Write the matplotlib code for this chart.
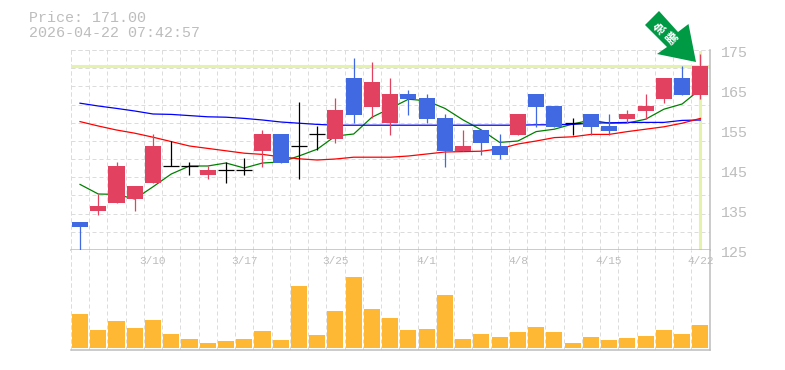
import numpy as np
import matplotlib
matplotlib.use("Agg")
import matplotlib.pyplot as plt
from matplotlib.patches import Polygon, Rectangle

# OHLC
opens = [132, 134.75, 136.75, 137.75, 141.75, 146, 146, 143.75, 144.9, 144.9, 149.75, 154,
         150.9, 153.9, 152.75, 168, 160.75, 156.75, 164, 163, 158, 149.75, 155, 151,
         153.75, 164, 161, 156.75, 159, 156, 157.75, 159.75, 162.75, 168, 163.75]
closes = [130.75, 136, 146, 141, 151, 146, 146, 145, 144.9, 144.9, 154, 146.75,
          150.9, 153.9, 160, 158.75, 167, 164, 162.75, 157.75, 149.75, 151, 151.75, 148.75,
          159, 160.75, 155.75, 156.75, 155.75, 154.75, 159, 161, 168, 163.75, 171]
highs = [132, 139, 147, 141, 154, 152.25, 147, 146, 147, 148, 155, 154,
         162, 156, 163, 173, 172, 168, 165, 164, 159, 155, 155, 154,
         159, 164, 161, 158, 159, 159, 160, 164, 168, 171, 174]
lows = [125, 133.75, 136.75, 134.75, 141.75, 146, 143.75, 142.75, 141.75, 143.75, 145.75, 146.75,
        142.75, 150, 151.75, 156.75, 158, 153.75, 158.75, 156.75, 145.75, 149.75, 148.75, 147.75,
        153.75, 155.75, 155.75, 153.75, 153.75, 153.75, 156.7, 157.75, 161.75, 163.75, 162.75]

ma_green = [141.4, 139, 138.9, 137.75, 140.8, 144, 146, 146, 146.75, 145.5, 146.75, 147,
            148.5, 150.2, 153.5, 154, 158.2, 160.4, 162.7, 162.3, 160.4, 157.5, 155, 151.9,
            152.25, 154.6, 155.2, 156.5, 157.5, 156.7, 156.75, 157.7, 160.2, 161.5, 165.2]
ma_blue = [161.7, 161, 160.4, 159.75, 159, 158.9, 158.6, 158.3, 158.2, 157.9, 157.5, 157,
           156.7, 156.4, 156.2, 156.2, 156.2, 156.2, 156.2, 156.2, 156.2, 156.2, 156.2, 156.2,
           156.2, 156.3, 156.3, 156.4, 156.7, 156.8, 156.9, 156.9, 156.9, 157.4, 157.5]
ma_red = [157.1, 156, 155, 154.2, 153.2, 152.1, 151, 150.4, 149.8, 149.2, 148.9, 148.3,
          147.8, 147.5, 147.75, 148.2, 148.2, 148.2, 148.5, 149, 149.5, 149.6, 149.7, 150.3,
          151.5, 152.25, 153.1, 153.3, 153.9, 153.9, 154.6, 155.2, 155.8, 156.7, 157.9]

volumes = [34, 18, 27, 20, 28, 14, 9, 5, 7, 9, 17, 8, 62, 13, 37, 71, 39, 30,
           18, 19, 53, 9, 14, 11, 16, 21, 16, 5, 11, 8, 10, 12, 18, 14, 23]

date_pos = [4, 9, 14, 19, 24, 29, 34]
date_labels = ["3/10", "3/17", "3/25", "4/1", "4/8", "4/15", "4/22"]
price_ticks = [125, 135, 145, 155, 165, 175]
last_price = 171.00
stamp = "2026-04-22 07:42:57"

W, H = 785, 370
RED = "#e2425f"
BLUE = "#4169e1"
GREY = "#bdbdbd"
GRID = "#dcdcdc"
MONO = "Liberation Mono"
DASH = (0, (4, 3))

fig = plt.figure(figsize=(W / 100, H / 100), dpi=100)


def px_axes(x0, y0, x1, y1):
    return fig.add_axes([x0 / W, 1 - y1 / H, (x1 - x0) / W, (y1 - y0) / H])


ax = px_axes(70.9, 50, 709.5, 250)
axv = px_axes(70.9, 250, 709.5, 350)
x = np.arange(len(closes))

for a in (ax, axv):
    a.set_xlim(-0.5, len(closes) - 0.5)
    a.set_xticks(x - 0.5, minor=False)
    a.tick_params(length=0, labelbottom=False, labelleft=False)
    a.grid(axis="x", color=GRID, lw=0.72, ls=DASH, zorder=0)
    a.set_axisbelow(True)
    for s in ("top", "left"):
        a.spines[s].set_visible(False)
    a.spines["right"].set_color(GREY)
    a.spines["right"].set_linewidth(1.1)
    a.spines["bottom"].set_color(GREY)
    a.spines["bottom"].set_linewidth(1.1)

# precio: 4 px por unidad, pero la rejilla tiene 11 divisiones
ax.set_ylim(125, 175)
ax.set_yticks(np.linspace(125, 175, 12)[1:])
ax.grid(axis="y", color=GRID, lw=0.72, ls=DASH, zorder=0)
ax.plot([-0.5, len(closes) - 0.5], [175, 175], color=GRID, lw=0.72, ls=DASH, zorder=0, clip_on=False)
ax.plot([-0.5, -0.5], [125, 175], color=GRID, lw=0.72, ls=DASH, zorder=0, clip_on=False)
axv.plot([-0.5, -0.5], [-2, 98], color=GRID, lw=0.72, ls=DASH, zorder=0, clip_on=False)

ax.axhline(last_price, color="#e3f3ab", lw=2.2, zorder=1)
ax.axvline(x[-1], color="#e3f3ab", lw=2.2, ymax=0.99, zorder=1)

# las medias pasan por debajo de las velas
ax.plot(x, ma_green, color="#008000", lw=0.9, zorder=2)
ax.plot(x, ma_blue, color="#0000ff", lw=0.9, zorder=2)
ax.plot(x, ma_red, color="#ff0000", lw=0.9, zorder=2)

for i in x:
    o, c, h, l = opens[i], closes[i], highs[i], lows[i]
    if o == c:
        col = "black"
    elif c > o:
        col = RED
    else:
        col = BLUE
    ax.plot([i, i], [l, h], color=col, lw=0.9, zorder=3, solid_capstyle="butt")
    if o == c:
        ax.plot([i - 0.44, i + 0.44], [o, o], color=col, lw=0.9, zorder=3, solid_capstyle="butt")
    else:
        ax.add_patch(Rectangle((i - 0.44, min(o, c)), 0.88, abs(c - o), color=col, lw=0, zorder=3))

axv.set_ylim(-2, 98)
axv.set_yticks([])
axv.bar(x, volumes, width=0.88, color="#ffb833", lw=0, zorder=2)

for p, lab in zip(date_pos, date_labels):
    axv.text(p, 86.5, lab, ha="center", va="center", family=MONO, fontsize=8, color=GREY, clip_on=False)
for v in price_ticks:
    ax.annotate(str(v), (1, v), xycoords=("axes fraction", "data"), xytext=(11, -3), textcoords="offset pixels",
                ha="left", va="center", family=MONO, fontsize=10.8, color=GREY, annotation_clip=False)

fig.text(29 / W, 1 - 18 / H, f"Price: {last_price:.2f}", family=MONO, fontsize=10.8, color=GREY, va="center")
fig.text(29 / W, 1 - 33 / H, stamp, family=MONO, fontsize=10.8, color=GREY, va="center")

arrow_px = [(659, 11), (645, 25), (667, 47), (657, 54), (696, 62), (688.5, 24), (678, 32)]
fig.add_artist(Polygon([(px / W, 1 - py / H) for px, py in arrow_px], closed=True, color="#009944", lw=0,
                       transform=fig.transFigure, zorder=10))
for ch, cx, cy in [("急", 660.7, 29), ("騰", 672.7, 39)]:
    fig.text(cx / W, 1 - cy / H, ch, family=["Noto Sans CJK JP", "DejaVu Sans"], fontsize=8.5, color="white",
             rotation=45, ha="center", va="center", rotation_mode="anchor", fontweight="bold", zorder=11)

fig.savefig("out.png", dpi=100)
